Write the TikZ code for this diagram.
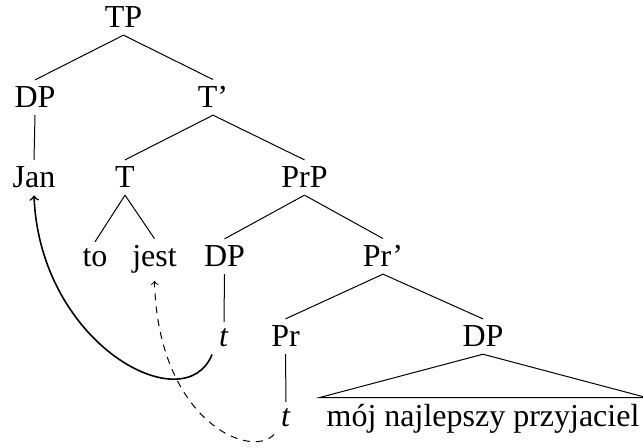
\documentclass[tikz,border=0pt]{standalone}
\usepackage{fontspec}
\setmainfont{Liberation Serif}

\begin{document}
\begin{tikzpicture}[x=0.5pt,y=-0.5pt,line width=0.5pt,
        every node/.style={anchor=base,font=\fontsize{16}{19}\selectfont}]
        \useasboundingbox (0,0) rectangle (643,448);

        \node at (123.5,28) (TP) {TP};

        \node at (35,108) (DP1) {DP};
        \node at (213,108) (Tbar) {T'};

        \node at (34,188) (Jan) {Jan};
        \node at (125,188) (T) {T};
        \node at (304.5,188) (PrP) {PrP};

        \node at (95,267) (to) {to};
        \node at (154.5,267) (jest) {jest};
        \node at (224.5,267) (DP2) {DP};
        \node at (383,267) (Prbar) {Pr'};

        \node at (224,347) (t1) {\textit{t}};
        \node at (285.5,347) (Pr) {Pr};
        \node at (483,347) (DP3) {DP};

        \node at (286,427) (t2) {\textit{t}};
        \node at (483,427) (moj) {mój najlepszy przyjaciel};

        \path
        (TP.south) edge (DP1.north)
        (TP.south) edge (Tbar.north)

        (DP1.south) edge (Jan.north)
        (Tbar.south) edge (T.north)
        (Tbar.south) edge (PrP.north)

        (T.south) edge (to.north)
        (T.south) edge (jest.north)
        (PrP.south) edge (DP2.north)
        (PrP.south) edge (Prbar.north)

        (DP2.south) edge (t1.north)
        (Prbar.south) edge (Pr.north)
        (Prbar.south) edge (DP3.north)

        (Pr.south) edge (t2.north)
        ;

        % roof over the DP
        \draw (DP3.south) -- (moj.north west) -- (moj.north east) -- cycle;

        % movement
        \draw[->,line width=0.8pt] (t1.south west) .. controls (185,422) and (40,345) .. (Jan.south);
        \draw[->,dash pattern=on 3.5pt off 3pt] (t2.south west) .. controls (250,460) and (158,420) .. (jest.south);
\end{tikzpicture}
\end{document}
